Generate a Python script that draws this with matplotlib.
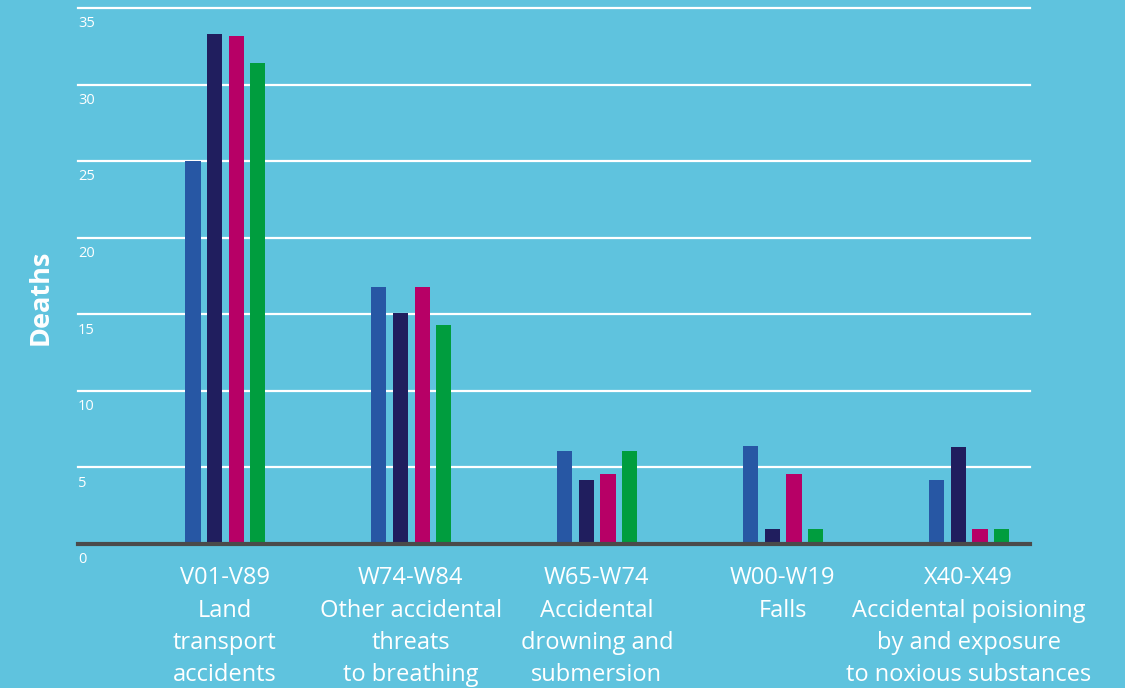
import matplotlib
matplotlib.use("Agg")
import matplotlib.pyplot as plt
import matplotlib.transforms as mtransforms
import numpy as np

# ---- data ----
categories = [
    "V01-V89\nLand\ntransport\naccidents",
    "W74-W84\nOther accidental\nthreats\nto breathing",
    "W65-W74\nAccidental\ndrowning and\nsubmersion",
    "W00-W19\nFalls",
    "X40-X49\nAccidental poisioning\nby and exposure\nto noxious substances",
]
series_names = ["Series 1", "Series 2", "Series 3", "Series 4"]
series_1 = [25.0, 16.8, 6.1, 6.4, 4.2]
series_2 = [33.3, 15.1, 4.2, 1.0, 6.35]
series_3 = [33.2, 16.8, 4.6, 4.6, 1.0]
series_4 = [31.4, 14.3, 6.1, 1.0, 1.0]
y_ticks = [0, 5, 10, 15, 20, 25, 30, 35]
y_label = "Deaths"

colors = ["#2757a4", "#201e5e", "#b70066", "#009d3e"]
bg = "#5fc3de"

plt.rcParams['font.family'] = ['Open Sans', 'DejaVu Sans']

fig = plt.figure(figsize=(11.25, 6.88), dpi=100, facecolor=bg)
ax = fig.add_axes([78/1125, 1-544/688, (1030-78)/1125, (544-8)/688])
ax.set_facecolor(bg)

x = np.arange(len(categories))
width = 0.082
offsets = [-0.172, -0.056, 0.061, 0.177]
all_series = [series_1, series_2, series_3, series_4]
for s, off, c, name in zip(all_series, offsets, colors, series_names):
    ax.bar(x + off, s, width=width, color=c, label=name, zorder=3)

ax.set_ylim(0, 35)
ax.set_xlim(-0.79, 4.33)

# gridlines
for t in y_ticks[1:]:
    ax.axhline(t, color="white", linewidth=1.6, zorder=1, clip_on=False)
ax.axhline(0, color="#4a4a4a", linewidth=3, zorder=4, clip_on=False)

# y tick labels (below the gridlines, left aligned)
trans = mtransforms.blended_transform_factory(ax.transAxes, ax.transData)
for t in y_ticks:
    ax.annotate(str(t), xy=(0, t), xycoords=trans, xytext=(0, -6),
                textcoords="offset points", ha="left", va="top",
                color="white", fontsize=10.5)

ax.set_yticks([])
ax.set_xticks(x)
ax.set_xticklabels(categories, color="white", fontsize=17, linespacing=1.46)
ax.tick_params(axis="x", length=0, pad=16)

for sp in ax.spines.values():
    sp.set_visible(False)

fig.text(41/1125, 1-297/688, y_label, rotation=90, color="white",
         fontsize=19.5, fontweight="bold", ha="center", va="center")

fig.savefig("out.png", dpi=100, facecolor=bg)
